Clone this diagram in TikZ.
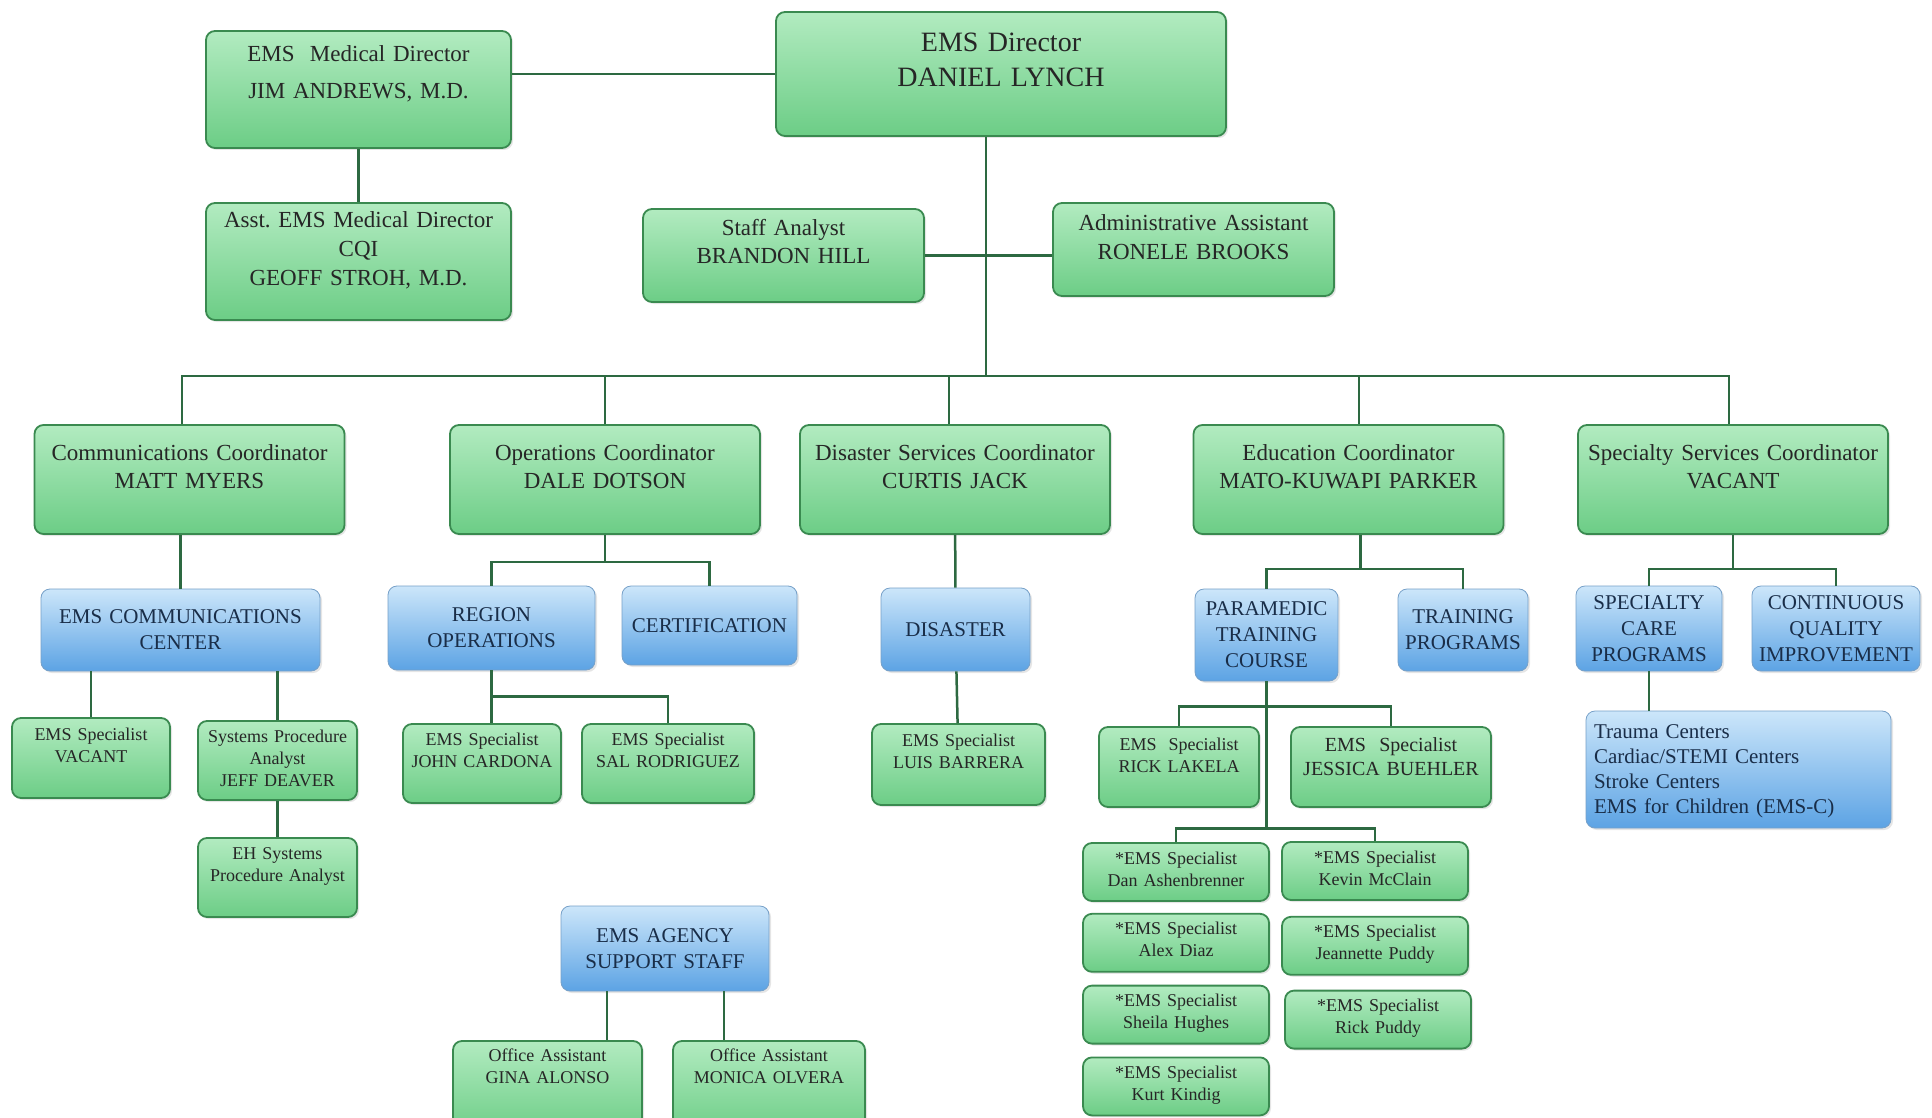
\documentclass[tikz,border=0pt]{standalone}
\usepackage{fontspec}
\setmainfont{Liberation Serif}
\usepackage{xcolor}
\usepackage{tikz}
\usetikzlibrary{positioning,shadows}

\definecolor{gtop}{RGB}{178,235,192}
\definecolor{gbot}{RGB}{108,205,134}
\definecolor{gline}{RGB}{58,138,80}
\definecolor{btop}{RGB}{204,230,250}
\definecolor{bbot}{RGB}{92,163,228}
\definecolor{bline}{RGB}{118,160,200}
\definecolor{navy}{RGB}{25,45,72}
\definecolor{lnk}{RGB}{45,105,65}

\frenchspacing
\begin{document}
\begin{tikzpicture}[
x=1pt, y=-1pt,
orgbox/.style={
    rectangle,
    rounded corners=9pt,
    align=center,
    inner sep=4pt,
    drop shadow={opacity=0.2, shadow xshift=2pt, shadow yshift=-2pt}
},
gbox/.style={orgbox, draw=gline, line width=1.8pt, top color=gtop, bottom color=gbot, text=black!85},
bbox/.style={orgbox, draw=bline, line width=0.8pt, top color=btop, bottom color=bbot, text=navy,
    font=\fontsize{21}{26}\selectfont},
head/.style={gbox, font=\fontsize{23}{28}\selectfont, text width=302pt, text height=31pt, text depth=70pt},
sbox/.style={gbox, font=\fontsize{18}{22}\selectfont},
pbox/.style={sbox, text width=178pt, text height=17pt, text depth=33pt},
link/.style={draw=lnk, line width=2.5pt}
]
\useasboundingbox[fill=white] (0,0) rectangle (1932,1118);

\node[gbox, font=\fontsize{28}{35}\selectfont, text width=442pt, text height=36pt, text depth=80pt] (dir) at (1001,74) {EMS Director\\DANIEL LYNCH};
\node[gbox, font=\fontsize{23}{37}\selectfont, text width=297pt, text height=27pt, text depth=82pt] (med) at (358.5,89.5) {EMS\ \ Medical Director\\JIM ANDREWS, M.D.};
\node[gbox, font=\fontsize{23}{29}\selectfont, text width=297pt, text height=20pt, text depth=89pt] (asst) at (358.5,261.5) {Asst. EMS Medical Director\\CQI\\GEOFF STROH, M.D.};
\node[gbox, font=\fontsize{23}{28}\selectfont, text width=273pt, text height=23pt, text depth=62pt] (staff) at (783.5,255.5) {Staff Analyst\\BRANDON HILL};
\node[gbox, font=\fontsize{23}{29}\selectfont, text width=273pt, text height=23pt, text depth=62pt] (admin) at (1193.5,249.5) {Administrative Assistant\\RONELE BROOKS};

\node[head] (comm) at (189.5,479.5) {Communications Coordinator\\MATT MYERS};
\node[head] (ops) at (605,479.5) {Operations Coordinator\\DALE DOTSON};
\node[head] (dis) at (955,479.5) {Disaster Services Coordinator\\CURTIS JACK};
\node[head] (edu) at (1348.5,479.5) {Education Coordinator\\MATO-KUWAPI PARKER};
\node[head] (spec) at (1733,479.5) {Specialty Services Coordinator\\VACANT};

\node[bbox, text width=271pt, minimum height=82pt] (ecc) at (180.5,630) {EMS COMMUNICATIONS\\CENTER};
\node[bbox, text width=199pt, minimum height=84pt] (reg) at (491.5,628) {REGION\\OPERATIONS};
\node[bbox, text width=167pt, minimum height=79pt] (cert) at (709.5,625.5) {CERTIFICATION};
\node[bbox, text width=141pt, minimum height=83pt] (disb) at (955.5,629.5) {DISASTER};
\node[bbox, text width=135pt, minimum height=92pt] (para) at (1266.5,635) {PARAMEDIC\\TRAINING\\COURSE};
\node[bbox, text width=122pt, minimum height=82pt] (trp) at (1463,630) {TRAINING\\PROGRAMS};
\node[bbox, text width=138pt, minimum height=85pt] (scp) at (1649,628.5) {SPECIALTY\\CARE\\PROGRAMS};
\node[bbox, text width=160pt, minimum height=85pt] (cqi) at (1836,628.5) {CONTINUOUS\\QUALITY\\IMPROVEMENT};
\node[bbox, align=left, inner xsep=8pt, text width=289pt, text height=23pt, text depth=86pt, font=\fontsize{21}{25}\selectfont] (care) at (1738.5,769.5) {Trauma Centers\\Cardiac/STEMI Centers\\Stroke Centers\\EMS for Children (EMS-C)};
\node[bbox, text width=200pt, minimum height=85pt] (agency) at (665,948.5) {EMS AGENCY\\SUPPORT STAFF};

\node[sbox, text width=150pt, text height=18pt, text depth=54pt] (vac) at (91,758) {EMS Specialist\\VACANT};
\node[sbox, text width=151pt, text height=17pt, text depth=54pt] (jeff) at (277.5,760.5) {Systems Procedure\\Analyst\\JEFF DEAVER};
\node[sbox, text width=151pt, text height=17pt, text depth=54pt] (eh) at (277.5,877.5) {EH Systems\\Procedure Analyst};
\node[sbox, text width=150pt, text height=17pt, text depth=54pt] (john) at (482,763.5) {EMS Specialist\\JOHN CARDONA};
\node[sbox, text width=164pt, text height=17pt, text depth=54pt] (sal) at (668,763.5) {EMS Specialist\\SAL RODRIGUEZ};
\node[sbox, text width=165pt, text height=18pt, text depth=55pt] (luis) at (958.5,764.5) {EMS Specialist\\LUIS BARRERA};
\node[sbox, text width=152pt, text height=19pt, text depth=53pt] (rick) at (1179,767) {EMS\ \ Specialist\\RICK LAKELA};
\node[sbox, font=\fontsize{20}{24}\selectfont, text width=192pt, text height=20pt, text depth=52pt] (jess) at (1391,767) {EMS\ \ Specialist\\JESSICA BUEHLER};

\node[pbox] (dan) at (1176,872) {*EMS Specialist\\Dan Ashenbrenner};
\node[pbox, below=11pt of dan] (alex) {*EMS Specialist\\Alex Diaz};
\node[pbox, below=12pt of alex] (sheila) {*EMS Specialist\\Sheila Hughes};
\node[pbox, below=12pt of sheila] (kurt) {*EMS Specialist\\Kurt Kindig};
\node[pbox] (kevin) at (1375,871) {*EMS Specialist\\Kevin McClain};
\node[pbox, below=15pt of kevin] (jean) {*EMS Specialist\\Jeannette Puddy};
\node[pbox, below=14pt of jean, xshift=3pt] (rickp) {*EMS Specialist\\Rick Puddy};

\node[sbox, text width=181pt, text height=16pt, text depth=70pt] (gina) at (547.5,1088) {Office Assistant\\GINA ALONSO};
\node[sbox, text width=184pt, text height=16pt, text depth=70pt] (monica) at (769,1088) {Office Assistant\\MONICA OLVERA};

\coordinate (trunk) at (986,376);
\draw[link] (dir.west) -- (dir.west -| med.east);
\draw[link] (med) -- (asst);
\draw[link] (trunk |- dir.south) -- (trunk);
\draw[link] (staff.east) -- (staff.east -| admin.west);
\draw[link] ([xshift=-7.5pt]comm.north) -- ([xshift=-7.5pt]comm.north |- trunk)
    -- ([xshift=-4pt]spec.north |- trunk) -- ([xshift=-4pt]spec.north);
\draw[link] (ops.north) -- (ops.north |- trunk);
\draw[link] ([xshift=-6pt]dis.north) -- ([xshift=-6pt]dis.north |- trunk);
\draw[link] ([xshift=10.5pt]edu.north) -- ([xshift=10.5pt]edu.north |- trunk);

\draw[link] (ecc.north) -- (ecc.north |- comm.south);
\draw[link] (vac.north) -- (vac.north |- ecc.south);
\draw[link] (jeff.north) -- (jeff.north |- ecc.south);
\draw[link] (jeff) -- (eh);

\draw[link] (ops.south) -- ++(0,27) coordinate (opsj);
\draw[link] (reg.north) |- (opsj) -| (cert.north);
\draw[link] (reg.south) -- ++(0,26) coordinate (regj);
\draw[link] (regj) -- (regj |- john.north);
\draw[link] (regj) -| (sal.north);

\draw[link] (dis) -- (disb);
\draw[link] (disb) -- (luis);

\draw[link] ([xshift=12pt]edu.south) -- ++(0,34) coordinate (eduj);
\draw[link] (para.north) |- (eduj) -| (trp.north);
\draw[link] (para.south) -- ++(0,25) coordinate (paraj) -- ++(0,122) coordinate (paraj2);
\draw[link] (rick.north) |- (paraj) -| (jess.north);
\draw[link] (dan.north) |- (paraj2) -| (kevin.north);

\draw[link] (spec.south) -- ++(0,34) coordinate (specj);
\draw[link] (scp.north) |- (specj) -| (cqi.north);
\draw[link] (scp.south) -- (scp.south |- care.north);

\draw[link] ([xshift=-58pt]agency.south) -- ([xshift=-58pt]agency.south |- gina.north);
\draw[link] ([xshift=59pt]agency.south) -- ([xshift=59pt]agency.south |- monica.north);
\end{tikzpicture}
\end{document}
